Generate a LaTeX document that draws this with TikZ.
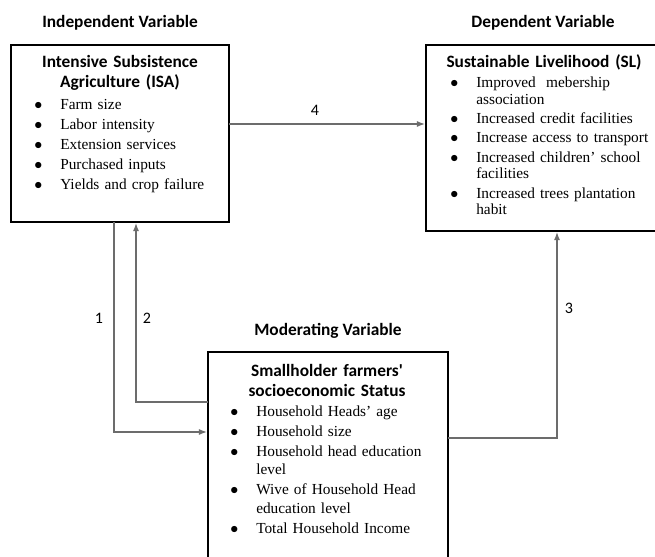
\documentclass[tikz,border=0pt]{standalone}
\usepackage{fontspec}
\setmainfont{Liberation Serif}
\newfontfamily\headfont{Carlito}
\usetikzlibrary{positioning}
\usetikzlibrary{arrows.meta}
\tikzset{
  varbox/.style={%
    draw,
    line width=2pt,
    anchor=north west,
    inner sep=0,
    outer sep=0,
  },
  heading/.style={font=\headfont\bfseries\fontsize{13}{15}\selectfont, inner sep=0, anchor=base},
  boxtitle/.style={font=\headfont\bfseries\fontsize{13}{15}\selectfont, inner sep=0,
    anchor=base, align=center, text width=170pt},
  itemlist/.style={font=\fontsize{11.5}{#1}\selectfont, inner sep=0,
    anchor=base west, align=left, text width=175pt},
  link/.style={draw=gray!85!black, line width=0.9pt, shorten >=0.8pt,
    -{Latex[length=6pt,width=4.5pt]}},
  linklabel/.style={font=\headfont\fontsize{12}{14}\selectfont, inner sep=0},
}
\newcommand\bul{\makebox[19.5pt][l]{$\bullet$}}% bullet plus indent
\newcommand\cont{\hspace*{19.5pt}}

\begin{document}
\begin{tikzpicture}[x=0.75pt,y=-0.75pt]
  \useasboundingbox (0,0) rectangle (655,556);
  % the three boxes
  \node (isa) [varbox, minimum width=163.5pt, minimum height=132.75pt] at (11,45) {};
  \node (sl) [varbox, minimum width=175.5pt, minimum height=139.5pt] at (426,45) {};
  \node (mod) [varbox, minimum width=180pt, minimum height=157.5pt] at (208,352) {};
  % headings
  \node (indep) [heading] at (120,28) {Independent Variable};
  \node (dep) [heading] at (543,28) {Dependent Variable};
  \node (moder) [heading] at (328,335) {Moderating Variable};
  % box contents
  \node (isatitle) [boxtitle] at (120,68) {Intensive Subsistence\\Agriculture (ISA)};
  \node (isalist) [itemlist=15pt] at (34,109) {%
    \bul Farm size\\
    \bul Labor intensity\\
    \bul Extension services\\
    \bul Purchased inputs\\
    \bul Yields and crop failure};
  \node (sltitle) [boxtitle] at (544,68) {Sustainable Livelihood (SL)};
  \node (sllist) [itemlist=12.75pt] at (450,88) {%
    \bul Improved\ \ mebership\\
    \cont association\\[1.5pt]
    \bul Increased credit facilities\\[1.5pt]
    \bul Increase access to transport\\[1.5pt]
    \bul Increased children' school\\
    \cont facilities\\[1.5pt]
    \bul Increased trees plantation\\
    \cont habit};
  \node (modtitle) [boxtitle] at (327,376) {Smallholder farmers'\\socioeconomic Status};
  \node (modlist) [itemlist=14pt] at (230,416) {%
    \bul Household Heads' age\\[1pt]
    \bul Household size\\[1pt]
    \bul Household head education\\
    \cont level\\[1pt]
    \bul Wive of Household Head\\
    \cont education level\\[1pt]
    \bul Total Household Income};
  % bend points of the links
  \coordinate (c1) at (114,432);
  \coordinate (c2) at (136,402);
  \coordinate (c3) at (557,438);
  \coordinate (c4) at (0,124);
  \draw [link] (isa.south -| c1) |- (mod.west |- c1);
  \draw [link] (mod.west |- c2) -| (isa.south -| c2);
  \draw [link] (mod.east |- c3) -| (sl.south -| c3);
  \draw [link] (isa.east |- c4) -- (sl.west |- c4);
  \node (n1) [linklabel] at (99,318) {1};
  \node (n2) [linklabel] at (147,318) {2};
  \node (n3) [linklabel] at (569,308) {3};
  \node (n4) [linklabel] at (315,110) {4};
\end{tikzpicture}
\end{document}
